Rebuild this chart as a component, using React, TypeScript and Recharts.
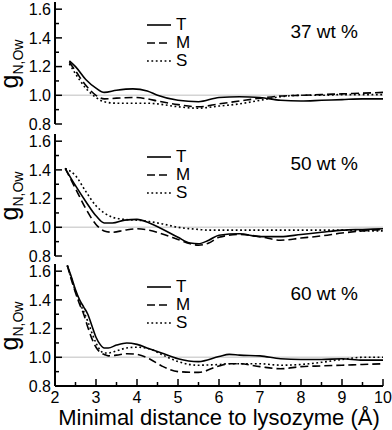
import React from "react";
import { Legend, Line, LineChart, ReferenceLine, XAxis, YAxis } from "recharts";

const FONT = "'Liberation Sans', Arial, Helvetica, sans-serif";

const xTicks = [2, 2.5, 3, 3.5, 4, 4.5, 5, 5.5, 6, 6.5, 7, 7.5, 8, 8.5, 9, 9.5, 10];
const yTicks = [0.8, 0.9, 1, 1.1, 1.2, 1.3, 1.4, 1.5, 1.6];
const seriesNames = ["T", "M", "S"];

// 37 wt %
const dist37 = [2.35, 2.5, 2.75, 3.0, 3.2, 3.5, 3.9, 4.25, 4.5, 5.0, 5.5, 6.0, 6.5, 7.0, 7.5, 8.0, 8.5, 9.0, 9.5, 10.0];
const t37 = [1.24, 1.2, 1.11, 1.05, 1.02, 1.035, 1.045, 1.03, 1.0, 0.965, 0.955, 0.985, 0.99, 0.985, 0.965, 0.96, 0.965, 0.97, 0.975, 0.975];
const m37 = [1.23, 1.17, 1.07, 1.0, 0.975, 0.98, 0.985, 0.975, 0.96, 0.935, 0.92, 0.94, 0.96, 0.98, 0.995, 1.0, 1.005, 1.01, 1.015, 1.02];
const s37 = [1.22, 1.15, 1.05, 0.985, 0.955, 0.945, 0.945, 0.945, 0.94, 0.92, 0.91, 0.925, 0.94, 0.965, 0.99, 1.0, 1.0, 1.005, 1.005, 1.005];

// 50 wt %
const dist50 = [2.25, 2.5, 2.75, 3.0, 3.2, 3.4, 3.7, 4.0, 4.3, 4.6, 5.0, 5.3, 5.5, 5.75, 6.0, 6.5, 7.0, 7.5, 8.0, 8.5, 9.0, 9.5, 10.0];
const t50 = [1.41, 1.29, 1.18, 1.08, 1.03, 1.03, 1.05, 1.055, 1.03, 0.99, 0.93, 0.89, 0.885, 0.91, 0.945, 0.955, 0.935, 0.935, 0.95, 0.965, 0.98, 0.985, 0.99];
const m50 = [1.41, 1.27, 1.13, 1.02, 0.975, 0.965, 0.98, 0.99, 0.98, 0.955, 0.915, 0.885, 0.875, 0.89, 0.93, 0.95, 0.935, 0.91, 0.925, 0.94, 0.96, 0.975, 0.985];
const s50 = [1.41, 1.36, 1.25, 1.15, 1.1, 1.07, 1.055, 1.05, 1.04, 1.025, 1.0, 0.99, 0.985, 0.98, 0.98, 0.98, 0.98, 0.98, 0.98, 0.98, 0.98, 0.975, 0.975];

// 60 wt %
const dist60 = [2.3, 2.4, 2.5, 2.6, 2.7, 2.8, 2.9, 3.0, 3.1, 3.2, 3.3, 3.5, 3.75, 4.0, 4.3, 4.6, 5.0, 5.5, 6.0, 6.25, 6.5, 7.0, 7.5, 8.0, 8.5, 9.0, 9.5, 10.0];
const t60 = [1.64, 1.56, 1.47, 1.4, 1.35, 1.3, 1.22, 1.14, 1.09, 1.065, 1.065, 1.085, 1.1, 1.09, 1.06, 1.03, 0.99, 0.97, 1.005, 1.02, 1.015, 1.01, 0.99, 0.985, 0.985, 0.99, 0.98, 0.98];
const m60 = [1.64, 1.54, 1.45, 1.37, 1.3, 1.21, 1.13, 1.07, 1.035, 1.02, 1.01, 1.015, 1.025, 1.02, 0.99, 0.94, 0.9, 0.895, 0.94, 0.955, 0.955, 0.935, 0.92, 0.935, 0.94, 0.945, 0.95, 0.955];
const s60 = [1.64, 1.55, 1.46, 1.38, 1.32, 1.25, 1.17, 1.1, 1.05, 1.03, 1.03, 1.045, 1.065, 1.07, 1.06, 1.02, 0.97, 0.945, 0.95, 0.955, 0.955, 0.955, 0.945, 0.95, 0.965, 0.985, 1.0, 1.0];

const dashes: Record<string, string | undefined> = { T: undefined, M: "8 4", S: "1.8 2.6" };

const rows = (dist: number[], t: number[], m: number[], s: number[]) =>
  dist.map((d, i) => ({ d, T: t[i], M: m[i], S: s[i] }));

const isMajor = (v: number, step: number) => Math.abs(v / step - Math.round(v / step)) < 1e-6;

const PLOT_H = 122;
const PLOT_TOP = 2;

function LegendBox({ payload }: any) {
  const items = [...(payload ?? [])].sort(
    (a: any, b: any) => seriesNames.indexOf(a.value) - seriesNames.indexOf(b.value)
  );
  return (
    <div>
      {items.map((entry: any) => (
        <div key={entry.value} style={{ display: "flex", alignItems: "center", height: 18 }}>
          <svg width={26} height={10}>
            <line x1={1} x2={25} y1={5} y2={5} stroke="#000" strokeWidth={1.6} strokeDasharray={dashes[entry.value]} />
          </svg>
          <span style={{ marginLeft: 4, fontSize: 17, fontFamily: FONT, lineHeight: "18px", color: "#000" }}>
            {entry.value}
          </span>
        </div>
      ))}
    </div>
  );
}

type PanelProps = {
  data: { d: number; T: number; M: number; S: number }[];
  title: string;
  top: number;
  last?: boolean;
};

function Panel({ data, title, top, last }: PanelProps) {
  const axisH = last ? 42 : 0;
  const bottom = last ? 2 : 10;
  const height = PLOT_TOP + PLOT_H + axisH + bottom;
  const axisLine = { stroke: "#000", strokeWidth: 2 };

  return (
    <div style={{ position: "absolute", left: 0, top, width: 392, height }}>
      <LineChart width={392} height={height} data={data} margin={{ top: PLOT_TOP, right: 9, bottom, left: 0 }}>
        <XAxis
          dataKey="d"
          type="number"
          domain={[2, 10]}
          ticks={xTicks}
          interval={0}
          allowDataOverflow
          height={axisH}
          tickSize={0}
          tickMargin={0}
          tickLine={false}
          axisLine={axisLine}
          tick={(p: any) => {
            const major = isMajor(p.payload.value, 1);
            return (
              <g>
                <line x1={p.x} x2={p.x} y1={p.y} y2={p.y - (major ? 7 : 4)} stroke="#000" strokeWidth={1.5} />
                {last && major && (
                  <text x={p.x} y={p.y + 17} textAnchor="middle" fontSize={16} fontFamily={FONT} fill="#000">
                    {p.payload.value}
                  </text>
                )}
              </g>
            );
          }}
          label={
            last
              ? {
                  content: () => (
                    <text x={219} y={PLOT_TOP + PLOT_H + 39} textAnchor="middle" fontSize={22} fontFamily={FONT} fill="#000">
                      Minimal distance to lysozyme (Å)
                    </text>
                  ),
                }
              : undefined
          }
        />
        <XAxis
          xAxisId="top"
          dataKey="d"
          orientation="top"
          type="number"
          domain={[2, 10]}
          ticks={xTicks}
          interval={0}
          allowDataOverflow
          height={0}
          tickSize={0}
          tickMargin={0}
          tickLine={false}
          axisLine={axisLine}
          tick={(p: any) => {
            const major = isMajor(p.payload.value, 1);
            return <line x1={p.x} x2={p.x} y1={p.y} y2={p.y + (major ? 7 : 4)} stroke="#000" strokeWidth={1.5} />;
          }}
        />
        <YAxis
          type="number"
          domain={[0.8, 1.65]}
          ticks={yTicks}
          interval={0}
          allowDataOverflow
          width={55}
          tickSize={0}
          tickMargin={0}
          tickLine={false}
          axisLine={axisLine}
          tick={(p: any) => {
            const v = p.payload.value;
            const major = isMajor(v, 0.2);
            return (
              <g>
                <line x1={p.x} x2={p.x + (major ? 7 : 4)} y1={p.y} y2={p.y} stroke="#000" strokeWidth={1.5} />
                {major && (
                  <text x={p.x - 4} y={p.y} dy="0.36em" textAnchor="end" fontSize={16} fontFamily={FONT} fill="#000">
                    {v.toFixed(1)}
                  </text>
                )}
              </g>
            );
          }}
          label={{
            content: () => {
              const cx = 18;
              const cy = PLOT_TOP + PLOT_H / 2 + 1;
              return (
                <text x={cx} y={cy} transform={`rotate(-90, ${cx}, ${cy})`} textAnchor="middle" fontFamily={FONT} fill="#000">
                  <tspan fontSize={25}>g</tspan>
                  <tspan fontSize={14} dy={5}>N,Ow</tspan>
                </text>
              );
            },
          }}
        />
        <YAxis
          yAxisId="right"
          orientation="right"
          type="number"
          domain={[0.8, 1.65]}
          ticks={yTicks}
          interval={0}
          allowDataOverflow
          width={0}
          tickSize={0}
          tickMargin={0}
          tickLine={false}
          axisLine={axisLine}
          tick={(p: any) => {
            const major = isMajor(p.payload.value, 0.2);
            return <line x1={p.x} x2={p.x - (major ? 7 : 4)} y1={p.y} y2={p.y} stroke="#000" strokeWidth={1.5} />;
          }}
        />
        <ReferenceLine y={1} stroke="#d4d4d4" strokeWidth={1.5} />
        <Legend
          layout="vertical"
          align="center"
          verticalAlign="middle"
          wrapperStyle={{ left: 146, top: PLOT_TOP + 14, width: 60 }}
          content={(lp: any) => <LegendBox payload={lp.payload} />}
        />
        {seriesNames.map((name) => (
          <Line
            key={name}
            dataKey={name}
            name={name}
            type="monotone"
            stroke="#000"
            strokeWidth={1.6}
            strokeDasharray={dashes[name]}
            dot={false}
            activeDot={false}
            isAnimationActive={false}
          />
        ))}
      </LineChart>
      <div
        style={{
          position: "absolute",
          right: 34,
          top: PLOT_TOP + 20,
          fontSize: 19,
          lineHeight: "19px",
          fontFamily: FONT,
          color: "#000",
          whiteSpace: "pre",
        }}
      >
        {title}
      </div>
    </div>
  );
}

export default function App() {
  return (
    <div style={{ position: "absolute", left: 0, top: 0, width: 392, height: 430, background: "#fff" }}>
      <Panel data={rows(dist37, t37, m37, s37)} title="37 wt %" top={0} />
      <Panel data={rows(dist50, t50, m50, s50)} title="50 wt %" top={132} />
      <Panel data={rows(dist60, t60, m60, s60)} title="60 wt %" top={262} last />
    </div>
  );
}
